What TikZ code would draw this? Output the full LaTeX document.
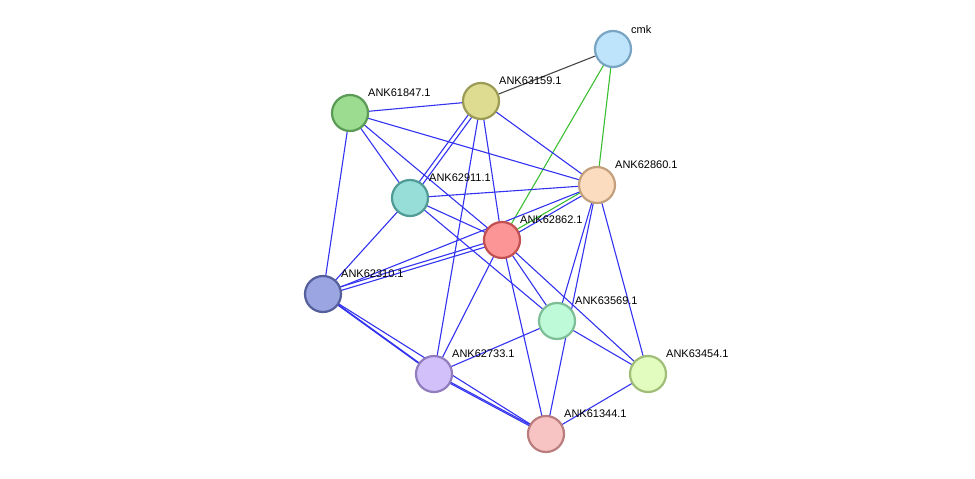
\documentclass[tikz,border=0pt]{standalone}
\usepackage{fontspec}
\setmainfont{Liberation Sans}
\begin{document}
\begin{tikzpicture}[x=1pt,y=-1pt,
 nd/.style={circle,minimum size=36pt,inner sep=0,line width=2.2pt},
 lb/.style={font=\fontsize{11}{12}\selectfont,anchor=south west,inner sep=1pt},
 e/.style={draw={rgb,255:red,50;green,50;blue,240},line width=1.1pt},
 g/.style={draw={rgb,255:red,60;green,190;blue,50},line width=1.1pt},
 k/.style={draw={rgb,255:red,70;green,70;blue,70},line width=1.1pt}]
\useasboundingbox (0,0) rectangle (975,479);
\coordinate (cmk) at (613,49);
\coordinate (a159) at (481,101);
\coordinate (a847) at (350,113);
\coordinate (a860) at (597,185);
\coordinate (a911) at (410,198);
\coordinate (a862) at (502,240);
\coordinate (a310) at (323,294);
\coordinate (a569) at (557,321);
\coordinate (a733) at (434,374);
\coordinate (a454) at (648,374);
\coordinate (a344) at (546,434);
\draw[k] (cmk)--(a159);
\draw[g] (cmk)--(a862); \draw[g] (cmk)--(a860);
\draw[g] ([yshift=2]a860)--([yshift=2]a862);
\draw[e] ([yshift=-2]a860)--([yshift=-2]a862);
\foreach \a/\b in {a847/a159,a847/a860,a847/a911,a847/a862,a847/a310,
 a159/a862,a159/a860,a159/a733,a911/a860,a911/a862,a911/a569,a911/a310,
 a860/a310,a862/a733,a862/a569,a862/a454,a862/a344,a860/a569,a860/a344,a860/a454,
 a310/a344,a733/a569,a569/a454,a344/a454}
 \draw[e] (\a)--(\b);
\foreach \a/\b in {a159/a911,a862/a310,a310/a733,a733/a344}{
 \draw[e,transform canvas={shift={(1.5,1.5)}}] (\a)--(\b);
 \draw[e,transform canvas={shift={(-1.5,-1.5)}}] (\a)--(\b);}
\node[nd,fill={rgb,255:red,190;green,228;blue,252},draw={rgb,255:red,120;green,165;blue,195}] (n1) at (cmk) {};
\node[nd,fill={rgb,255:red,222;green,220;blue,145},draw={rgb,255:red,155;green,155;blue,85}] (n2) at (a159) {};
\node[nd,fill={rgb,255:red,155;green,220;blue,145},draw={rgb,255:red,90;green,155;blue,85}] (n3) at (a847) {};
\node[nd,fill={rgb,255:red,252;green,220;blue,190},draw={rgb,255:red,195;green,160;blue,125}] (n4) at (a860) {};
\node[nd,fill={rgb,255:red,150;green,222;blue,215},draw={rgb,255:red,80;green,155;blue,150}] (n5) at (a911) {};
\node[nd,fill={rgb,255:red,252;green,150;blue,150},draw={rgb,255:red,195;green,80;blue,80}] (n6) at (a862) {};
\node[nd,fill={rgb,255:red,155;green,165;blue,225},draw={rgb,255:red,85;green,95;blue,155}] (n7) at (a310) {};
\node[nd,fill={rgb,255:red,190;green,250;blue,215},draw={rgb,255:red,125;green,190;blue,150}] (n8) at (a569) {};
\node[nd,fill={rgb,255:red,210;green,192;blue,250},draw={rgb,255:red,145;green,125;blue,190}] (n9) at (a733) {};
\node[nd,fill={rgb,255:red,225;green,252;blue,190},draw={rgb,255:red,160;green,190;blue,120}] (n10) at (a454) {};
\node[nd,fill={rgb,255:red,248;green,195;blue,195},draw={rgb,255:red,185;green,125;blue,125}] (n11) at (a344) {};
\node[lb] at (630,35) {cmk};
\node[lb] at (498,86) {ANK63159.1};
\node[lb] at (367,98) {ANK61847.1};
\node[lb] at (614,170) {ANK62860.1};
\node[lb] at (428,183) {ANK62911.1};
\node[lb] at (519,225) {ANK62862.1};
\node[lb] at (340,279) {ANK62310.1};
\node[lb] at (574,306) {ANK63569.1};
\node[lb] at (451,359) {ANK62733.1};
\node[lb] at (665,359) {ANK63454.1};
\node[lb] at (563,419) {ANK61344.1};
\end{tikzpicture}
\end{document}
